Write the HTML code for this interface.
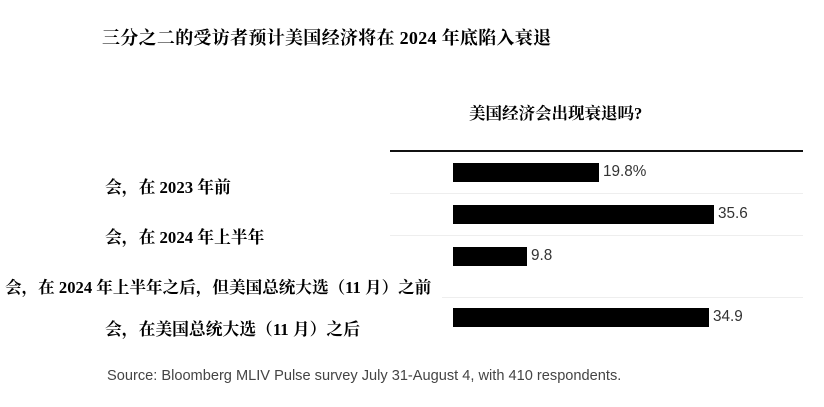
<!DOCTYPE html><html><head><meta charset="utf-8"><style>
body{margin:0;width:824px;height:407px;background:#fff;position:relative;overflow:hidden}
div{position:absolute;white-space:nowrap}
.s{font-family:"Liberation Serif","Noto Serif CJK SC",serif;font-weight:bold;color:#000}
.b{background:#000;left:453px;height:19px}
.v{font-family:"Liberation Sans",sans-serif;font-size:15.3px;color:#333}
.l{height:1px;background:#eee;right:21px}
</style></head><body>
<div class="s" style="left:102px;top:24px;font-size:18px;letter-spacing:0.3px">三分之二的受访者预计美国经济将在 2024 年底陷入衰退</div>
<div class="s" style="left:469px;top:100px;font-size:16.5px">美国经济会出现衰退吗?</div>
<div style="left:390px;top:150px;width:413px;height:2px;background:#111"></div>
<div class="l" style="left:390px;top:193px"></div>
<div class="l" style="left:390px;top:235px"></div>
<div class="l" style="left:442px;top:297px"></div>
<div class="b" style="top:163px;width:146px"></div><div class="v" style="left:603px;top:163px">19.8%</div>
<div class="b" style="top:205px;width:261px"></div><div class="v" style="left:718px;top:205px">35.6</div>
<div class="b" style="top:247px;width:74px"></div><div class="v" style="left:531px;top:247px">9.8</div>
<div class="b" style="top:308px;width:256px"></div><div class="v" style="left:713px;top:308px">34.9</div>
<div class="s" style="left:105px;top:174px;font-size:16.8px">会，在 2023 年前</div>
<div class="s" style="left:105px;top:224px;font-size:16.8px">会，在 2024 年上半年</div>
<div class="s" style="left:5px;top:274px;font-size:16.6px">会，在 2024 年上半年之后，但美国总统大选（11 月）之前</div>
<div class="s" style="left:105px;top:316px;font-size:16.8px">会，在美国总统大选（11 月）之后</div>
<div style="left:107px;top:368px;font-family:'Liberation Sans',sans-serif;font-size:14.6px;color:#444">Source: Bloomberg MLIV Pulse survey July 31-August 4, with 410 respondents.</div>
</body></html>
